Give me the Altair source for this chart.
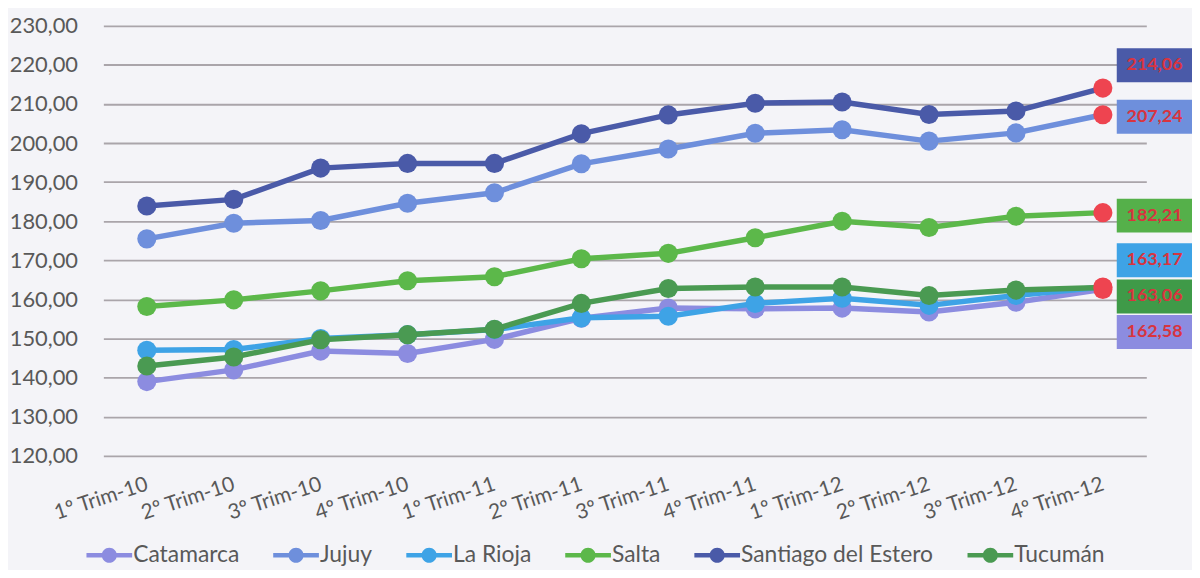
import altair as alt
import pandas as pd

quarters = ["1º Trim-10", "2º Trim-10", "3º Trim-10", "4º Trim-10",
            "1º Trim-11", "2º Trim-11", "3º Trim-11", "4º Trim-11",
            "1º Trim-12", "2º Trim-12", "3º Trim-12", "4º Trim-12"]

series_names = ["Catamarca", "Jujuy", "La Rioja", "Salta", "Santiago del Estero", "Tucumán"]

catamarca = [139.0, 142.0, 146.8, 146.2, 149.8, 155.2, 157.8, 157.6, 157.8, 156.8, 159.3, 162.58]
jujuy = [175.5, 179.5, 180.2, 184.6, 187.3, 194.7, 198.5, 202.5, 203.4, 200.5, 202.6, 207.24]
la_rioja = [147.0, 147.2, 150.0, 151.0, 152.3, 155.3, 155.7, 159.0, 160.3, 158.5, 161.0, 163.17]
salta = [158.2, 159.9, 162.2, 164.8, 165.8, 170.4, 171.8, 175.8, 180.0, 178.4, 181.3, 182.21]
santiago = [183.9, 185.6, 193.6, 194.8, 194.8, 202.4, 207.2, 210.2, 210.5, 207.3, 208.2, 214.06]
tucuman = [143.0, 145.3, 149.7, 151.0, 152.4, 159.0, 162.8, 163.2, 163.2, 161.0, 162.4, 163.06]

series_values = [catamarca, jujuy, la_rioja, salta, santiago, tucuman]

y_ticks = [120, 130, 140, 150, 160, 170, 180, 190, 200, 210, 220, 230]

# styles
line_colors = ["#8c8ce0", "#6e8fdc", "#3ea3e6", "#5cb84a", "#4a5aa8", "#4a9a52"]
box_colors = ["#8c8ce0", "#6e8fdc", "#3ea3e6", "#55b04a", "#4a5aa8", "#3f9a48"]
label_dy = [43, 2, -27, 3, -23, 9]
RED = "#ee4450"
LABEL_RED = "#d8343f"
FONT = "Lato"

rows = []
for name, vals in zip(series_names, series_values):
    for q, v in zip(quarters, vals):
        rows.append({"serie": name, "q": q, "v": v})
df = pd.DataFrame(rows)

last_q = quarters[-1]

x_enc = alt.X("q:N", sort=quarters,
              scale=alt.Scale(type="point", padding=0.5, domain=quarters),
              axis=alt.Axis(title=None, labelAngle=-18, labelAlign="right", labelBaseline="middle",
                            labelPadding=28, ticks=False, domain=False, grid=False,
                            labelFont=FONT, labelFontSize=21, labelColor="#595959"))
y_enc = alt.Y("v:Q",
              scale=alt.Scale(domain=[120, 230], nice=False, zero=False),
              axis=alt.Axis(title=None, values=y_ticks, ticks=False, domain=False,
                            labelExpr="replace(format(datum.value, '.2f'), '.', ',')",
                            labelFont=FONT, labelFontSize=22, labelColor="#595959",
                            labelPadding=26, gridColor="#aaa5aa", gridWidth=1.8))

legend_path = ("M-1,-0.1H1V0.1H-1Z "
               "M0.33,0A0.33,0.33 0 1,1 -0.33,0A0.33,0.33 0 1,1 0.33,0Z")
color_scale = alt.Scale(domain=series_names, range=line_colors)
legend = alt.Legend(title=None, orient="none", direction="horizontal", columns=6,
                    legendX=-17, legendY=510, symbolType=legend_path, symbolSize=2116,
                    symbolStrokeWidth=0, symbolOpacity=1, labelFont=FONT, labelFontSize=23,
                    labelColor="#595959", labelOffset=1, columnPadding=34, labelLimit=400)

layers = []
for name, col in zip(series_names, line_colors):
    base = alt.Chart(df).transform_filter(alt.datum.serie == name)
    line = base.mark_line(strokeWidth=5.5, color=col).encode(x=x_enc, y=y_enc)
    pts = base.mark_point(filled=True, size=370, opacity=1).encode(
        x=x_enc, y=y_enc,
        color=alt.condition(f"datum.q == '{last_q}'", alt.value(RED),
                            alt.Color("serie:N", scale=color_scale, legend=legend)))
    layers += [line, pts]

box_path = "M-1,-0.45H1V0.45H-1Z"
for name, vals, bcol, dy in zip(series_names, series_values, box_colors, label_dy):
    lab = pd.DataFrame({"q": [last_q], "v": [vals[-1]],
                        "txt": [f"{vals[-1]:.2f}".replace(".", ",")]})
    lb = alt.Chart(lab)
    box = lb.mark_point(shape=box_path, size=5776, filled=True, opacity=1, color=bcol,
                        xOffset=52, yOffset=dy, clip=False).encode(x=x_enc, y=y_enc)
    txt = lb.mark_text(dx=52, dy=dy, color=LABEL_RED, font=FONT, fontSize=18,
                       fontWeight="bold", clip=False).encode(x=x_enc, y=y_enc, text="txt:N")
    layers += [box, txt]

chart = alt.layer(*layers).properties(
    width=1050, height=433,
    autosize=alt.AutoSizeParams(type="none"),
    padding={"left": 96, "top": 16, "right": 46, "bottom": 113},
    background="#f4f4f8",
).configure_view(stroke=None)

chart.save("out.html", embed_options={"renderer": "svg", "actions": False})
